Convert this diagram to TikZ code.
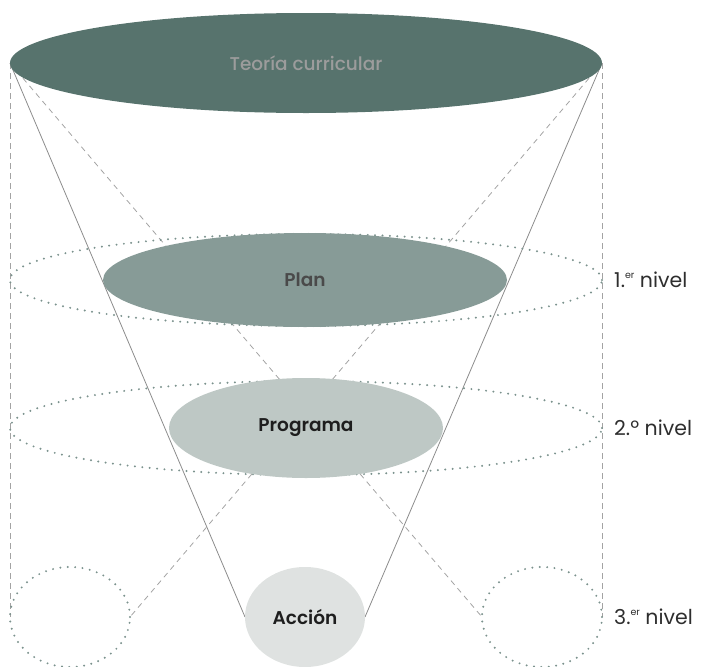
\documentclass[tikz,border=0pt]{standalone}
\usepackage{fontspec}
\setmainfont{Poppins}[BoldFont={Poppins SemiBold}]
\newfontfamily\mediumfont{Poppins Medium}
\usetikzlibrary{shapes.geometric}

\definecolor{topfill}{HTML}{57736D}
\definecolor{planfill}{HTML}{879B97}
\definecolor{progfill}{HTML}{BEC8C5}
\definecolor{accfill}{HTML}{DFE2E1}
\definecolor{ringcol}{HTML}{7B928D}
\definecolor{conecol}{HTML}{8C8C8C}
\definecolor{guidecol}{HTML}{A3A3A3}
\definecolor{toptext}{HTML}{9C9C9C}
\definecolor{plantext}{HTML}{4A4A4A}
\definecolor{darktext}{HTML}{1E1E1E}
\definecolor{labeltext}{HTML}{2E2E2E}

\pgfdeclarelayer{background}
\pgfsetlayers{background,main}

% small raised ordinal ending
\newcommand{\ordend}[1]{\raisebox{0.45em}{\fontsize{9.5}{10}\selectfont #1}}

\begin{document}
\begin{tikzpicture}[x=1pt,y=-1pt,
  disc/.style={ellipse, inner sep=0pt, outer sep=0pt, draw=none,
    font=\fontsize{18.5}{20}\selectfont},
  ring/.style={ellipse, inner sep=0pt, outer sep=0pt, draw=ringcol,
    line width=2.2pt, line cap=round, dash pattern=on 0pt off 7.4pt},
  cone/.style={draw=conecol, line width=0.8pt},
  guide/.style={draw=guidecol, line width=0.8pt, dash pattern=on 5.5pt off 4.5pt},
  levellabel/.style={anchor=west, inner sep=0pt, text=labeltext,
    font=\fontsize{20.5}{22}\selectfont}]
\useasboundingbox (0,0) rectangle (702,667);

% dotted level rings
\node[ring, minimum width=592, minimum height=92] (ring1) at (306,280) {};
\node[ring, minimum width=592, minimum height=94] (ring2) at (306,428) {};
\node[ring, minimum width=120, minimum height=100] (ringL) at (70,617) {};
\node[ring, minimum width=120, minimum height=100] (ringR) at (542,617) {};

% filled levels
\node[disc, fill=topfill, text=toptext, minimum width=592, minimum height=100]
  (top) at (306,63) {\mediumfont Teoría curricular};
\node[disc, fill=planfill, text=plantext, minimum width=404, minimum height=94]
  (plan) at (305,280) {\bfseries Plan};
\node[disc, fill=progfill, text=darktext, minimum width=274, minimum height=100]
  (prog) at (306,428) {\bfseries Programa};
\node[disc, fill=accfill, text=darktext, minimum width=120, minimum height=100]
  (accion) at (305,617) {\bfseries Acción};

% connectors behind the levels
\begin{pgfonlayer}{background}
  \draw[cone] (top.west) -- (accion.west);
  \draw[cone] (top.east) -- (accion.east);
  \draw[guide] (top.west) -- (ringR.west);
  \draw[guide] (top.east) -- (ringL.east);
  \draw[guide] (top.west) -- (ringL.west);
  \draw[guide] (top.east) -- (ringR.east);
\end{pgfonlayer}

% level labels
\node[levellabel] (lab1) at (614,280) {1.\ordend{er} nivel};
\node[levellabel] (lab2) at (614,428) {2.º nivel};
\node[levellabel] (lab3) at (614,617) {3.\ordend{er} nivel};
\end{tikzpicture}
\end{document}
